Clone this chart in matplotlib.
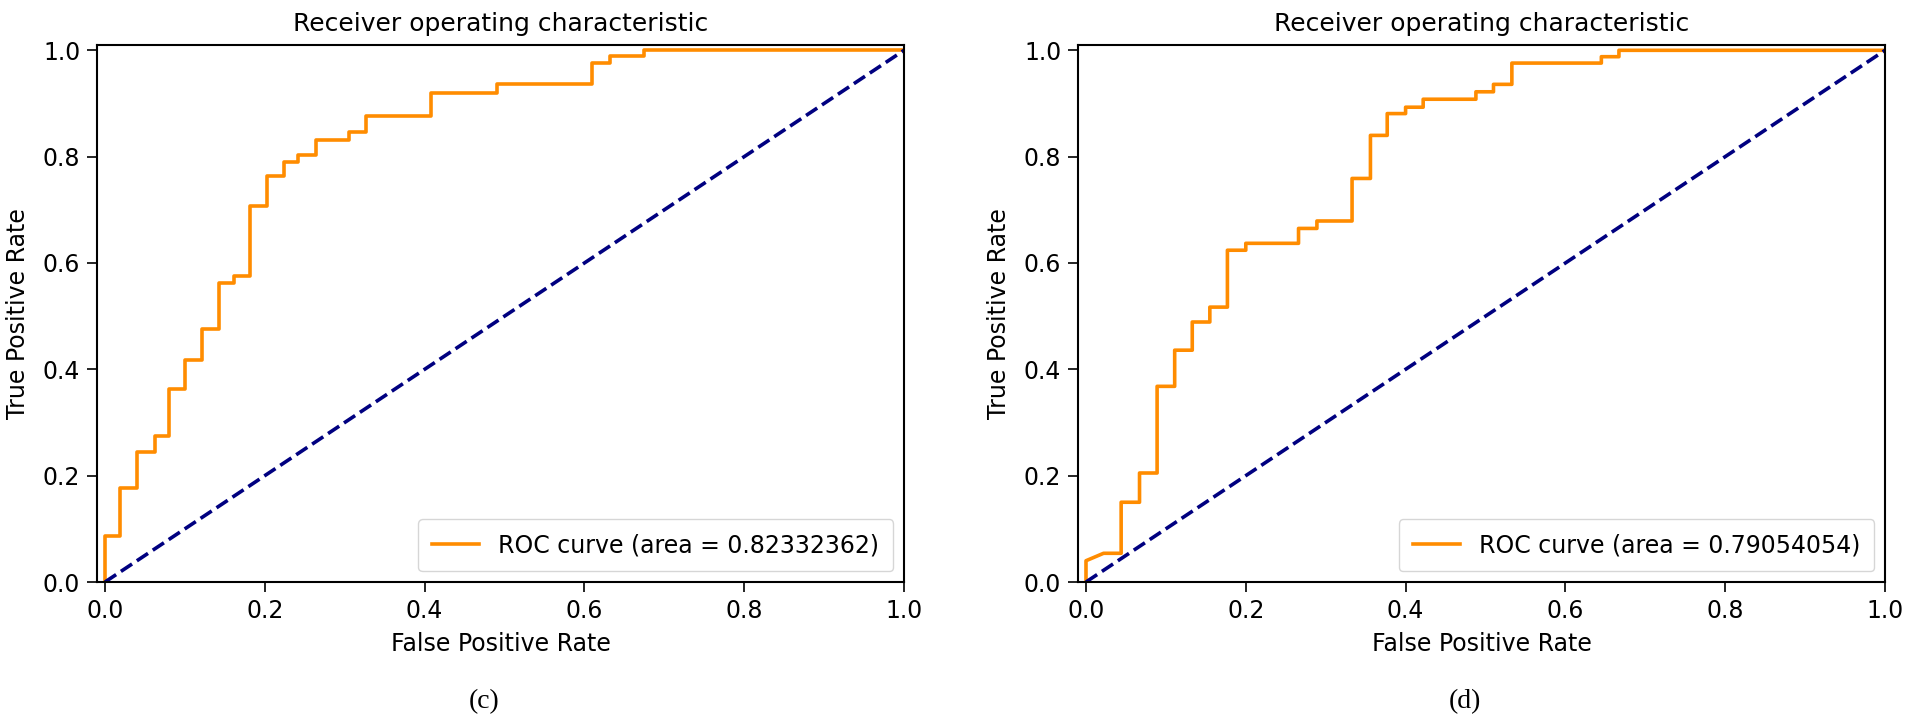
import matplotlib.pyplot as plt

# ROC curve (c)
fpr_c = [0.0, 0.0, 0.019, 0.019, 0.040, 0.040, 0.062, 0.062, 0.080, 0.080,
         0.100, 0.100, 0.121, 0.121, 0.143, 0.143, 0.161, 0.161, 0.181, 0.181,
         0.203, 0.203, 0.224, 0.224, 0.242, 0.242, 0.264, 0.264, 0.306, 0.306,
         0.327, 0.327, 0.408, 0.408, 0.490, 0.490, 0.610, 0.610, 0.632, 0.632,
         0.674, 0.674, 1.0]
tpr_c = [0.0, 0.087, 0.087, 0.177, 0.177, 0.245, 0.245, 0.274, 0.274, 0.363,
         0.363, 0.418, 0.418, 0.475, 0.475, 0.562, 0.562, 0.576, 0.576, 0.707,
         0.707, 0.763, 0.763, 0.790, 0.790, 0.804, 0.804, 0.832, 0.832, 0.846,
         0.846, 0.877, 0.877, 0.920, 0.920, 0.936, 0.936, 0.977, 0.977, 0.990,
         0.990, 1.0, 1.0]
auc_c = "0.82332362"

# ROC curve (d)
fpr_d = [0.0, 0.0, 0.022, 0.044, 0.044, 0.067, 0.067, 0.089, 0.089, 0.111,
         0.111, 0.133, 0.133, 0.155, 0.155, 0.177, 0.177, 0.200, 0.200, 0.266,
         0.266, 0.289, 0.289, 0.333, 0.333, 0.356, 0.356, 0.377, 0.377, 0.400,
         0.400, 0.422, 0.422, 0.488, 0.488, 0.510, 0.510, 0.533, 0.533, 0.645,
         0.645, 0.667, 0.667, 1.0]
tpr_d = [0.0, 0.040, 0.054, 0.054, 0.150, 0.150, 0.205, 0.205, 0.368, 0.368,
         0.436, 0.436, 0.489, 0.489, 0.517, 0.517, 0.624, 0.624, 0.637, 0.637,
         0.665, 0.665, 0.679, 0.679, 0.759, 0.759, 0.840, 0.840, 0.881, 0.881,
         0.893, 0.893, 0.908, 0.908, 0.922, 0.922, 0.936, 0.936, 0.976, 0.976,
         0.988, 0.988, 1.0, 1.0]
auc_d = "0.79054054"

panels = [("(c)", fpr_c, tpr_c, auc_c), ("(d)", fpr_d, tpr_d, auc_d)]

fig = plt.figure(figsize=(19.05, 7.23), dpi=100)
lefts = [97 / 1905, 1078 / 1905]
fs = 17

for left, (cap, fpr, tpr, auc) in zip(lefts, panels):
    ax = fig.add_axes([left, 141 / 723, 807 / 1905, 537 / 723])
    ax.plot(fpr, tpr, color="darkorange", lw=2.6, label="ROC curve (area = %s)" % auc)
    ax.plot([0, 1], [0, 1], color="navy", lw=2.6, linestyle="--")
    ax.set_xlim([-0.01, 1.0])
    ax.set_ylim([0.0, 1.01])
    ax.set_xlabel("False Positive Rate", fontsize=fs, labelpad=7)
    ax.set_ylabel("True Positive Rate", fontsize=fs, labelpad=9)
    ax.set_title("Receiver operating characteristic", fontsize=fs + 1, pad=10)
    ax.tick_params(labelsize=fs, length=7, width=1.2, pad=5)
    for s in ax.spines.values():
        s.set_linewidth(1.5)
    ax.legend(loc="lower right", fontsize=fs, handlelength=2, borderpad=0.6,
              borderaxespad=0.45)
    # subfigure caption below the axes
    ax.text(0.48, -0.2, cap, transform=ax.transAxes, ha="center", va="top",
            fontsize=20, family="Liberation Serif")

fig.savefig("out.png", dpi=100)
